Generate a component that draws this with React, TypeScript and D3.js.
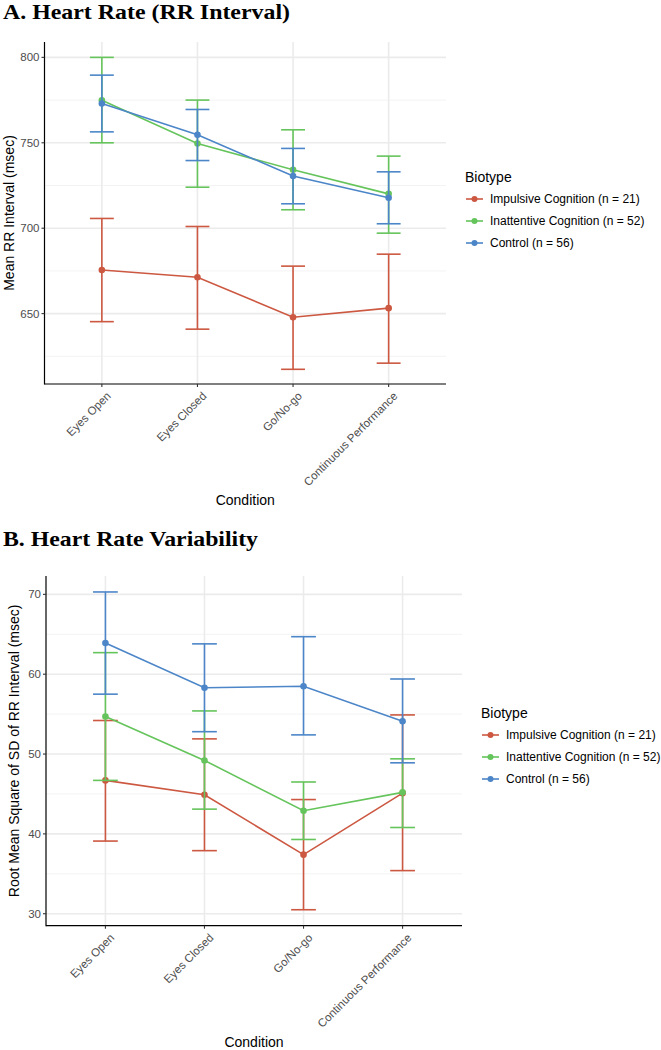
import * as d3 from "d3";

const conditions = ["Eyes Open", "Eyes Closed", "Go/No-go", "Continuous Performance"];
const biotypes = ["Impulsive Cognition (n = 21)", "Inattentive Cognition (n = 52)", "Control (n = 56)"];
const colors = ["#CC5841", "#65C45B", "#4C86C8"];

// Panel A: mean RR interval (msec), with error bar limits
const rrMean = [
  [675.5, 671.3, 647.9, 653.2],
  [774.9, 749.6, 734.2, 720.1],
  [773.0, 754.7, 730.5, 717.8],
];
const rrLow = [
  [645.3, 640.9, 617.4, 621.0],
  [750.0, 724.0, 710.8, 697.1],
  [756.4, 739.6, 714.3, 702.6],
];
const rrHigh = [
  [705.7, 701.0, 677.8, 684.8],
  [800.0, 775.0, 757.6, 742.2],
  [789.6, 769.5, 746.7, 733.0],
];
const rrTicks = [650, 700, 750, 800];
const rrMinor = [625, 675, 725, 775];

// Panel B: RMSSD (msec)
const hrvMean = [
  [46.7, 44.9, 37.4, 45.1],
  [54.7, 49.2, 42.9, 45.2],
  [63.9, 58.3, 58.5, 54.1],
];
const hrvLow = [
  [39.1, 37.9, 30.5, 35.4],
  [46.7, 43.1, 39.3, 40.8],
  [57.5, 52.8, 52.4, 48.9],
];
const hrvHigh = [
  [54.2, 51.9, 44.3, 54.9],
  [62.7, 55.4, 46.5, 49.4],
  [70.3, 63.8, 64.7, 59.4],
];
const hrvTicks = [30, 40, 50, 60, 70];
const hrvMinor = [35, 45, 55, 65];

const sans = "'Liberation Sans', Arial, sans-serif";

type PanelProps = {
  title: string;
  titleY: number;
  titleW: number;
  yLabel: string;
  yLabelX: number;
  box: { left: number; right: number; top: number; bottom: number };
  domain: [number, number];
  ticks: number[];
  minor: number[];
  mean: number[][];
  low: number[][];
  high: number[][];
  legend: { x: number; y: number };
  xTitleY: number;
};

function Panel(p: PanelProps) {
  const { left, right, top, bottom } = p.box;
  const x = d3.scalePoint<string>().domain(conditions).range([left, right]).padding(0.6);
  const y = d3.scaleLinear().domain(p.domain).range([bottom, top]);
  const capW = x.step() * 0.25;
  const line = d3
    .line<number>()
    .x((_, i) => x(conditions[i])!)
    .y((d) => y(d));

  return (
    <g>
      <text
        x={3}
        y={p.titleY}
        fontFamily="'Liberation Serif', 'Times New Roman', serif"
        fontWeight="bold"
        fontSize={21.5}
        textLength={p.titleW}
        lengthAdjust="spacingAndGlyphs"
      >
        {p.title}
      </text>
      {/* grid */}
      {p.minor.map((t) => (
        <line key={"mi" + t} x1={left} x2={right} y1={y(t)} y2={y(t)} stroke="#f3f3f3" strokeWidth={1} />
      ))}
      {p.ticks.map((t) => (
        <line key={"ma" + t} x1={left} x2={right} y1={y(t)} y2={y(t)} stroke="#ebebeb" strokeWidth={1.6} />
      ))}
      {conditions.map((c) => (
        <line key={"v" + c} x1={x(c)} x2={x(c)} y1={top} y2={bottom} stroke="#ebebeb" strokeWidth={1.6} />
      ))}
      {/* series */}
      {p.mean.map((m, s) => (
        <g key={"s" + s} stroke={colors[s]} fill={colors[s]}>
          <path d={line(m)!} fill="none" strokeWidth={1.6} />
          {m.map((v, i) => {
            const cx = x(conditions[i])!;
            return (
              <g key={i}>
                <line x1={cx} x2={cx} y1={y(p.low[s][i])} y2={y(p.high[s][i])} strokeWidth={1.6} />
                <line x1={cx - capW / 2} x2={cx + capW / 2} y1={y(p.low[s][i])} y2={y(p.low[s][i])} strokeWidth={1.6} />
                <line x1={cx - capW / 2} x2={cx + capW / 2} y1={y(p.high[s][i])} y2={y(p.high[s][i])} strokeWidth={1.6} />
                <circle cx={cx} cy={y(v)} r={3.3} stroke="none" />
              </g>
            );
          })}
        </g>
      ))}
      {/* axes */}
      <line x1={left} x2={left} y1={top} y2={bottom + 0.5} stroke="#000" strokeWidth={1.2} />
      <line x1={left} x2={right} y1={bottom} y2={bottom} stroke="#000" strokeWidth={1.2} />
      {p.ticks.map((t) => (
        <g key={"yt" + t}>
          <line x1={left - 3} x2={left} y1={y(t)} y2={y(t)} stroke="#333" strokeWidth={1.1} />
          <text x={left - 5} y={y(t)} dy="0.35em" textAnchor="end" fontFamily={sans} fontSize={11.5} fill="#4d4d4d">
            {t}
          </text>
        </g>
      ))}
      {conditions.map((c) => (
        <g key={"xt" + c}>
          <line x1={x(c)} x2={x(c)} y1={bottom} y2={bottom + 3} stroke="#333" strokeWidth={1.1} />
          <text
            transform={`translate(${x(c)! + 4},${bottom + 7}) rotate(-45)`}
            textAnchor="end"
            dy="0.7em"
            fontFamily={sans}
            fontSize={11.5}
            fill="#4d4d4d"
          >
            {c}
          </text>
        </g>
      ))}
      <text
        transform={`translate(${p.yLabelX},${(top + bottom) / 2}) rotate(-90)`}
        textAnchor="middle"
        dy="0.35em"
        fontFamily={sans}
        fontSize={14}
        fill="#000"
      >
        {p.yLabel}
      </text>
      <text x={(left + right) / 2} y={p.xTitleY} textAnchor="middle" fontFamily={sans} fontSize={14}>
        Condition
      </text>
      {/* legend */}
      <g transform={`translate(${p.legend.x},${p.legend.y})`}>
        <text x={0} y={0} fontFamily={sans} fontSize={14}>
          Biotype
        </text>
        {biotypes.map((b, i) => (
          <g key={b} transform={`translate(0,${17 + i * 22})`}>
            <line x1={1} x2={18} y1={0} y2={0} stroke={colors[i]} strokeWidth={1.6} />
            <circle cx={9.5} cy={0} r={3} fill={colors[i]} />
            <text x={25} y={0} dy="0.35em" fontFamily={sans} fontSize={12} fill="#000">
              {b}
            </text>
          </g>
        ))}
      </g>
    </g>
  );
}

export default function App() {
  return (
    <svg width={661} height={1050} style={{ position: "absolute", left: 0, top: 0, background: "#fff" }}>
      <rect width={661} height={1050} fill="#fff" />
      <Panel
        title="A. Heart Rate (RR Interval)"
        titleY={18.5}
        titleW={287}
        yLabel="Mean RR Interval (msec)"
        yLabelX={9}
        box={{ left: 44.5, right: 446, top: 42, bottom: 384 }}
        domain={[608.8, 809]}
        ticks={rrTicks}
        minor={rrMinor}
        mean={rrMean}
        low={rrLow}
        high={rrHigh}
        legend={{ x: 465, y: 182 }}
        xTitleY={505}
      />
      <Panel
        title="B. Heart Rate Variability"
        titleY={546}
        titleW={255}
        yLabel="Root Mean Square of SD of RR Interval (msec)"
        yLabelX={14}
        box={{ left: 46, right: 462, top: 576, bottom: 925.7 }}
        domain={[28.5, 72.3]}
        ticks={hrvTicks}
        minor={hrvMinor}
        mean={hrvMean}
        low={hrvLow}
        high={hrvHigh}
        legend={{ x: 481, y: 718 }}
        xTitleY={1047}
      />
    </svg>
  );
}
